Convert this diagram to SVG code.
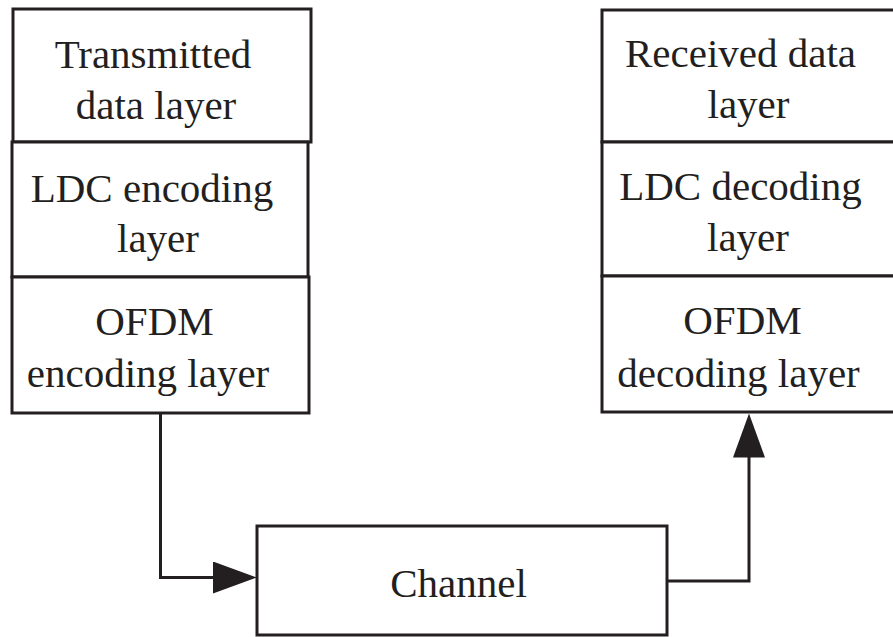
<svg xmlns="http://www.w3.org/2000/svg" width="893" height="637" viewBox="0 0 893 637">
  <style>
    .box { fill: #ffffff; stroke: #231f20; stroke-width: 3; }
    .conn { fill: none; stroke: #231f20; stroke-width: 3; stroke-linejoin: miter; }
    .lbl { font-family: "Liberation Serif", "Times New Roman", serif; font-size: 41px; fill: #231f20; text-anchor: middle; }
  </style>
  <defs>
    <marker id="arrow" viewBox="0 0 44 32" refX="38" refY="16" markerWidth="44" markerHeight="32" markerUnits="userSpaceOnUse" orient="auto">
      <path d="M0,0 L44,16 L0,32 Z" fill="#231f20"/>
    </marker>
  </defs>
  <rect width="893" height="637" fill="#ffffff"/>

  <g id="transmitted-data-layer">
    <rect class="box" x="13" y="9" width="298" height="133"/>
    <text class="lbl" x="153" y="68">Transmitted</text>
    <text class="lbl" x="156" y="119">data layer</text>
  </g>
  <g id="ldc-encoding-layer">
    <rect class="box" x="12" y="142" width="296" height="135"/>
    <text class="lbl" x="152" y="202">LDC encoding</text>
    <text class="lbl" x="158" y="252">layer</text>
  </g>
  <g id="ofdm-encoding-layer">
    <rect class="box" x="12" y="277" width="297" height="136"/>
    <text class="lbl" x="154.5" y="335">OFDM</text>
    <text class="lbl" x="148" y="387">encoding layer</text>
  </g>

  <g id="received-data-layer">
    <rect class="box" x="602" y="10" width="300" height="132"/>
    <text class="lbl" x="740.5" y="67">Received data</text>
    <text class="lbl" x="748.5" y="118">layer</text>
  </g>
  <g id="ldc-decoding-layer">
    <rect class="box" x="602" y="142" width="300" height="134"/>
    <text class="lbl" x="740.5" y="200">LDC decoding</text>
    <text class="lbl" x="748" y="251">layer</text>
  </g>
  <g id="ofdm-decoding-layer">
    <rect class="box" x="602" y="276" width="300" height="136"/>
    <text class="lbl" x="742.5" y="334">OFDM</text>
    <text class="lbl" x="738.5" y="387">decoding layer</text>
  </g>

  <g id="channel">
    <rect class="box" x="257" y="526" width="410" height="109"/>
    <text class="lbl" x="458.5" y="597">Channel</text>
  </g>

  <g id="connectors">
    <path class="conn" d="M160.5,413 V577.5 H251" marker-end="url(#arrow)"/>
    <path class="conn" d="M667,581 H749 V419.5" marker-end="url(#arrow)"/>
  </g>
</svg>
